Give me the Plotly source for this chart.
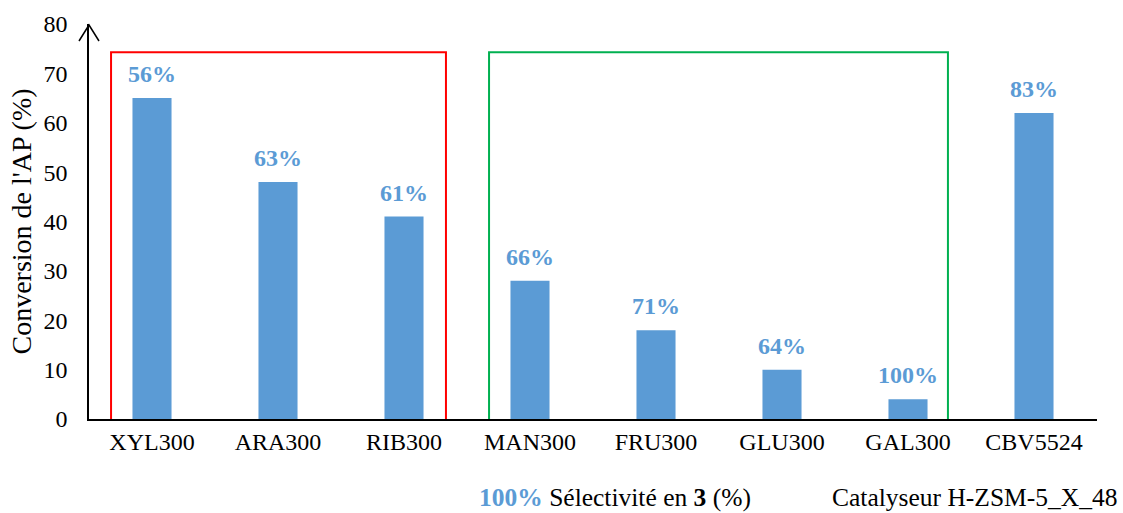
import plotly.graph_objects as go

categories = ["XYL300", "ARA300", "RIB300", "MAN300", "FRU300", "GLU300", "GAL300", "CBV5524"]
conversion = [65, 48, 41, 28, 18, 10, 4, 62]
selectivity = ["56%", "63%", "61%", "66%", "71%", "64%", "100%", "83%"]
y_ticks = [0, 10, 20, 30, 40, 50, 60, 70, 80]

BLUE = "#5B9BD5"
FONT = "Liberation Serif, Times New Roman, serif"

x_pos = list(range(len(categories)))

fig = go.Figure()
fig.add_trace(go.Bar(
    x=x_pos, y=conversion,
    marker=dict(color=BLUE, line=dict(width=0)),
    width=0.31,
    showlegend=False,
    hoverinfo="skip",
))

shapes = [
    dict(type="rect", xref="x", yref="y", x0=-0.325, x1=2.333, y0=-1.4, y1=74.3,
         line=dict(color="#FF0000", width=2), fillcolor="rgba(0,0,0,0)", layer="above"),
    dict(type="rect", xref="x", yref="y", x0=2.675, x1=6.317, y0=-1.4, y1=74.3,
         line=dict(color="#00B050", width=2), fillcolor="rgba(0,0,0,0)", layer="above"),
    # open arrowhead at top of y-axis
    dict(type="path", xref="paper", yref="paper", xsizemode="pixel", ysizemode="pixel",
         xanchor=0, yanchor=1, path="M -10,-17 L 0,-1 L 10,-17",
         line=dict(color="black", width=1.5)),
]

annotations = [
    dict(x=xi, y=yi, xref="x", yref="y", text="<b>%s</b>" % s,
         showarrow=False, xanchor="center", yanchor="bottom", yshift=9,
         font=dict(family=FONT, size=24, color=BLUE))
    for xi, yi, s in zip(x_pos, conversion, selectivity)
]
annotations += [
    dict(xref="paper", yref="paper", x=(477 - 89) / 1008, y=-(497 - 419) / 395,
         xanchor="left", yanchor="middle", showarrow=False,
         text="<b><span style='color:%s'>100%%</span></b> Sélectivité en <b>3</b> (%%)" % BLUE,
         font=dict(family=FONT, size=25.5, color="black")),
    dict(xref="paper", yref="paper", x=(1119 - 89) / 1008, y=-(497 - 419) / 395,
         xanchor="right", yanchor="middle", showarrow=False,
         text="Catalyseur H-ZSM-5_X_48",
         font=dict(family=FONT, size=25.5, color="black")),
]

fig.update_layout(
    width=1123, height=513,
    margin=dict(l=89, r=26, t=24, b=94),
    plot_bgcolor="white", paper_bgcolor="white",
    font=dict(family=FONT, size=24, color="black"),
    shapes=shapes,
    annotations=annotations,
    xaxis=dict(
        range=[-0.5, 7.5], tickmode="array",
        tickvals=x_pos, ticktext=categories,
        showline=True, linecolor="black", linewidth=2,
        showgrid=False, zeroline=False, ticks="",
        tickfont=dict(family=FONT, size=24, color="black"),
    ),
    yaxis=dict(
        range=[0, 80], tickmode="array", tickvals=y_ticks,
        showline=True, linecolor="black", linewidth=1.5,
        showgrid=False, zeroline=False, ticks="",
        ticklabelstandoff=15,
        tickfont=dict(family=FONT, size=24, color="black"),
        title=dict(text="Conversion de l'AP (%)", font=dict(family=FONT, size=28), standoff=4),
    ),
)

fig.write_html("out.html", config={"displayModeBar": False},
               post_script="document.body.style.margin='0';document.body.style.padding='0';")
